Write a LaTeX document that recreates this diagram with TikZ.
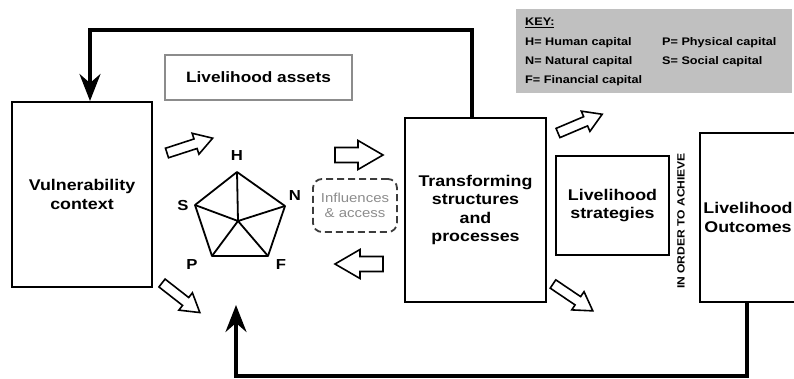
\documentclass[tikz,border=0pt]{standalone}
\usepackage{fontspec}
\setmainfont{Liberation Sans}
\newfontfamily\wfont{Liberation Sans}[FakeStretch=1.15]
\usetikzlibrary{arrows.meta}
\begin{document}
\begin{tikzpicture}[x=1pt,y=-1pt,
  box/.style={draw, line width=2pt, inner sep=0pt, align=center,
    font=\wfont\bfseries\fontsize{15.5}{18.5}\selectfont},
  feed/.style={line width=3.5pt, line join=miter,
    -{Stealth[length=27pt,width=21pt,inset=9pt]}},
  arrowline/.style={draw, line width=1.6pt, line join=miter, fill=white},
  keytext/.style={anchor=west, inner sep=0pt, font=\wfont\bfseries\fontsize{11}{12}\selectfont},
  pent/.style={line width=1.8pt, line join=round},
  plabel/.style={inner sep=0pt, font=\wfont\bfseries\fontsize{14.5}{16}\selectfont},
  bigarrow/.pic={\path[arrowline] (0,-7.5) -- (23,-7.5) -- (23,-14.5) -- (48,0) -- (23,14.5) -- (23,7.5) -- (0,7.5) -- cycle;},
  smallarrow/.pic={\path[arrowline] (0,-5) -- (30,-5) -- (30,-11) -- (48,0) -- (30,11) -- (30,5) -- (0,5) -- cycle;}
]
\useasboundingbox (0,0) rectangle (794,378);

% key
\node[fill={rgb,255:red,192;green,192;blue,192}, minimum width=276pt, minimum height=84pt, inner sep=0pt] (key) at (654,51) {};
\node[keytext] (k0) at (525,23) {\underline{KEY:}};
\node[keytext] (k1) at (525,43) {H= Human capital};
\node[keytext] (k2) at (525,62) {N= Natural capital};
\node[keytext] (k3) at (525,81) {F= Financial capital};
\node[keytext] (k4) at (662,43) {P= Physical capital};
\node[keytext] (k5) at (662,62) {S= Social capital};

% main boxes
\node[box, minimum width=140pt, minimum height=185pt] (vul) at (82,194.5) {Vulnerability\\context};
\node[box, minimum width=141pt, minimum height=184pt] (trans) at (475.5,210) {Transforming\\structures\\and\\processes};
\node[box, minimum width=113pt, minimum height=99pt] (strat) at (612.5,205.5) {Livelihood\\strategies};
\node[box, minimum width=96pt, minimum height=169pt] (out) at (748,217.5) {Livelihood\\Outcomes};
\node[draw={rgb,255:red,140;green,140;blue,140}, line width=1.2pt, minimum width=187pt, minimum height=45pt, inner sep=0pt,
  font=\wfont\bfseries\fontsize{15}{18}\selectfont] (assets) at (258.5,77.5) {Livelihood assets};
\node[rotate=90, inner sep=0pt, font=\wfont\bfseries\fontsize{10.5}{12}\selectfont] (ach) at (681,221) {IN ORDER TO ACHIEVE};

% influences & access
\node[draw={rgb,255:red,60;green,60;blue,60}, dash pattern=on 7pt off 4pt, line width=1.8pt, rounded corners=9pt,
  minimum width=84pt, minimum height=53pt, inner sep=0pt, align=center,
  text={rgb,255:red,140;green,140;blue,140}, font=\wfont\fontsize{13}{15}\selectfont] (infl) at (355,205.5) {Influences\\\&\ access};

% pentagon
\coordinate (pH) at (237,172);
\coordinate (pN) at (285,206);
\coordinate (pF) at (268,256);
\coordinate (pP) at (212,256);
\coordinate (pS) at (195,205);
\coordinate (pC) at (238,221);
\draw[pent] (pH) -- (pN) -- (pF) -- (pP) -- (pS) -- cycle;
\draw[pent] (pC) -- (pH) (pC) -- (pN) (pC) -- (pF) (pC) -- (pP) (pC) -- (pS);
\node[plabel] (lH) at (237,156) {H};
\node[plabel] (lN) at (295,196) {N};
\node[plabel] (lF) at (281,265) {F};
\node[plabel] (lP) at (192,265) {P};
\node[plabel] (lS) at (183,206) {S};

% hollow arrows
\pic[rotate=18] at (167,153) {smallarrow};
\pic[rotate=-38] at (162,283) {smallarrow};
\pic at (335,155) {bigarrow};
\pic[rotate=180] at (383,264) {bigarrow};
\pic[rotate=23] at (558,133) {smallarrow};
\pic[rotate=-34] at (553,284) {smallarrow};

% feedback loops
\coordinate (tr) at (472,30);
\coordinate (tl) at (90,30);
\draw[feed] (trans.north -| tr) -- (tr) -- (tl) -- (vul.north -| tl);
\coordinate (br) at (747,376);
\coordinate (bl) at (236,376);
\coordinate (btip) at (236,305);
\draw[feed] (out.south -| br) -- (br) -- (bl) -- (btip);
\end{tikzpicture}
\end{document}
